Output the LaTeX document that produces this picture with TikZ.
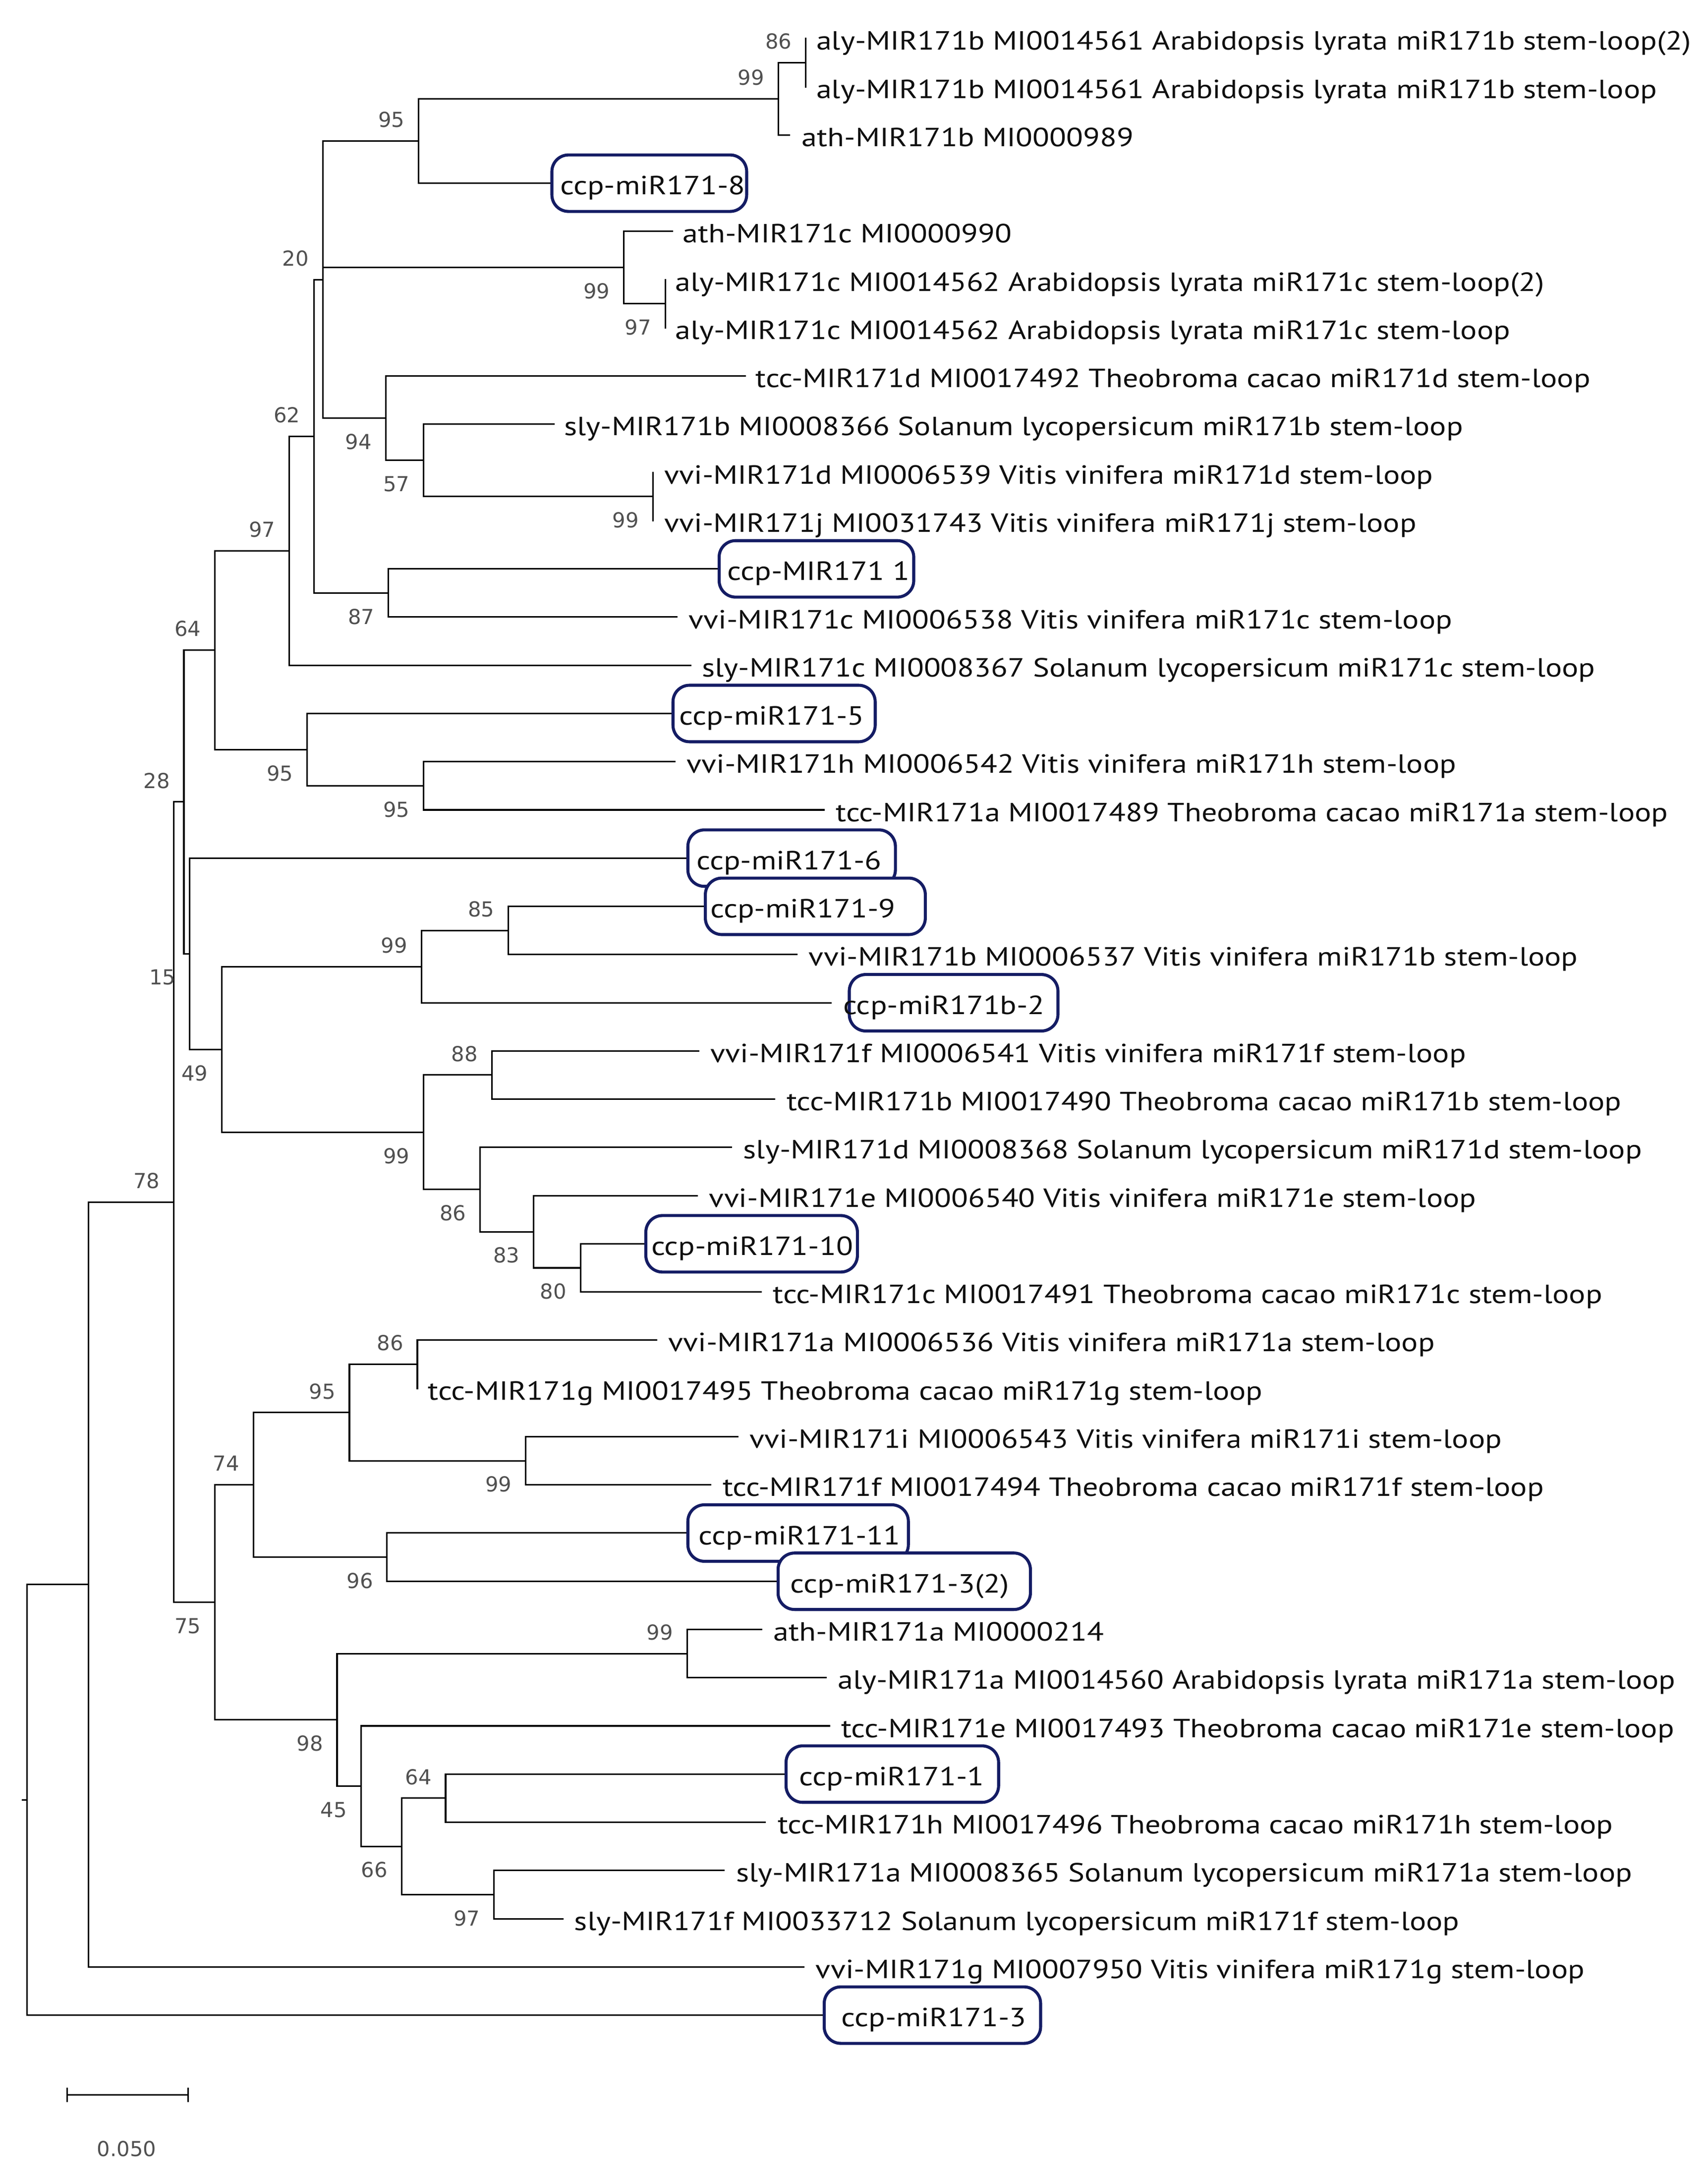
\documentclass[tikz,border=0pt]{standalone}
\usepackage{fontspec}
\usepackage{graphicx}
\newfontfamily\leaffam{PT Sans}
\newfontfamily\bsfam{DejaVu Sans}
\usetikzlibrary{calc}
\definecolor{navy}{RGB}{20,28,100}
\definecolor{bsgray}{RGB}{80,80,80}
\definecolor{leafblack}{RGB}{15,15,15}
\newlength\refw
\AtBeginDocument{%
\settowidth\refw{\leaffam\fontsize{10pt}{12pt}\selectfont aly-MIR171b MI0014561 Arabidopsis lyrata miR171b stem-loop(2)}%
\pgfmathsetmacro\leafsx{635/(\refw*1.91)}%
\xdef\leafsx{\leafsx}}
\newcommand\leaffont{\leaffam\fontsize{19.1pt}{19.1pt}\selectfont}
\newcommand\lt[1]{\scalebox{\leafsx}[1]{#1}}
\newcommand\bsfont{\bsfam\fontsize{15pt}{15pt}\selectfont}
\tikzset{
 br/.style={line width=1.1pt, draw=black, line cap=rect},
 leaf/.style={anchor=west, inner sep=0pt, font=\leaffont, text=leafblack, text height=16.6pt, text depth=0pt},
 bsu/.style={anchor=base east, inner sep=0pt, font=\bsfont, text=bsgray},
 bsl/.style={anchor=north east, inner sep=0pt, font=\bsfont, text=bsgray, text height=10.9pt, text depth=0pt},
 ccpbox/.style={draw=navy, line width=2.2pt, rounded corners=12pt, fill=white, minimum height=41pt, inner sep=0pt, anchor=west},
}
\begin{document}
\begin{tikzpicture}[x=1pt,y=-1pt]
\useasboundingbox (0,0) rectangle (1240,1574);
% internal nodes
\coordinate (A) at (585,45.5);
\coordinate (B) at (565,71.75);
\coordinate (C) at (304,102.4);
\coordinate (E) at (483,220.5);
\coordinate (D) at (453,194.25);
\coordinate (V) at (474,360.5);
\coordinate (N57) at (307.6,334.25);
\coordinate (G) at (280,303.6);
\coordinate (N20) at (234.3,203);
\coordinate (N87) at (282,430.5);
\coordinate (N62) at (228,316.75);
\coordinate (N97) at (210,399.9);
\coordinate (N95b) at (307.6,570.5);
\coordinate (N95a) at (223,544.25);
\coordinate (N64) at (156,472);
\coordinate (N85) at (369,675.5);
\coordinate (N99a) at (306,701.75);
\coordinate (N88) at (357,780.5);
\coordinate (N80) at (421.5,920.5);
\coordinate (N83) at (387.5,894.25);
\coordinate (N86) at (348.5,863.6);
\coordinate (N99b) at (307.6,822);
\coordinate (N49) at (161,761.9);
\coordinate (N15) at (137.7,692.4);
\coordinate (N28) at (133.5,582.2);
\coordinate (N86c) at (303,990.5);
\coordinate (N99c) at (381.7,1060.5);
\coordinate (N95c) at (253.7,1025.5);
\coordinate (N96) at (281,1130.5);
\coordinate (N74) at (184,1078);
\coordinate (N99d) at (498.8,1200.5);
\coordinate (N64b) at (323.5,1305.5);
\coordinate (N97b) at (358.7,1375.5);
\coordinate (N66) at (291.5,1340.5);
\coordinate (N45) at (262,1296.75);
\coordinate (N98) at (244.7,1248.6);
\coordinate (N75) at (156,1163.3);
\coordinate (N78) at (126.2,872.75);
\coordinate (NR1) at (64.4,1150.4);
\coordinate (Root) at (19.5,1306.7);
\coordinate (RootStub) at (16.5,1306.7);
% leaf ends
\coordinate (L1) at (585,28);
\coordinate (L2) at (585,63);
\coordinate (L3) at (573,98);
\coordinate (L4) at (399.6,133);
\coordinate (L5) at (488,168);
\coordinate (L6) at (483,203);
\coordinate (L7) at (483,238);
\coordinate (L8) at (541,273);
\coordinate (L9) at (402,308);
\coordinate (L10) at (474,343);
\coordinate (L11) at (474,378);
\coordinate (L12) at (521,413);
\coordinate (L13) at (491.4,448);
\coordinate (L14) at (501.3,483);
\coordinate (L15) at (487.5,518);
\coordinate (L16) at (490,553);
\coordinate (L17) at (598.3,588);
\coordinate (L18) at (498.3,623);
\coordinate (L19) at (511,658);
\coordinate (L20) at (578.6,693);
\coordinate (L21) at (603.2,728);
\coordinate (L22) at (507.2,763);
\coordinate (L23) at (562.4,798);
\coordinate (L24) at (530.8,833);
\coordinate (L25) at (506.2,868);
\coordinate (L26) at (467.8,903);
\coordinate (L27) at (552.5,938);
\coordinate (L28) at (476.7,973);
\coordinate (L29) at (303,1008);
\coordinate (L30) at (535.8,1043);
\coordinate (L31) at (516,1078);
\coordinate (L32) at (498.3,1113);
\coordinate (L33) at (563.8,1148);
\coordinate (L34) at (553,1183);
\coordinate (L35) at (599.8,1218);
\coordinate (L36) at (602.3,1253);
\coordinate (L37) at (569.6,1288);
\coordinate (L38) at (555.5,1323);
\coordinate (L39) at (525.4,1358);
\coordinate (L40) at (408.6,1393);
\coordinate (L41) at (583.5,1428);
\coordinate (L42) at (597.3,1463);
% branches
\foreach \p/\c in {A/L1,A/L2,B/A,B/L3,C/B,C/L4,E/L6,E/L7,D/L5,D/E,V/L10,V/L11,
  N57/L9,N57/V,G/L8,G/N57,N20/C,N20/D,N20/G,N87/L12,N87/L13,N62/N20,N62/N87,
  N97/N62,N97/L14,N95b/L16,N95b/L17,N95a/L15,N95a/N95b,N64/N97,N64/N95a,
  N85/L19,N85/L20,N99a/N85,N99a/L21,N88/L22,N88/L23,N80/L26,N80/L27,N83/L25,N83/N80,
  N86/L24,N86/N83,N99b/N88,N99b/N86,N49/N99a,N49/N99b,N15/L18,N15/N49,N28/N64,N28/N15,
  N86c/L28,N86c/L29,N99c/L30,N99c/L31,N95c/N86c,N95c/N99c,N96/L32,N96/L33,N74/N95c,N74/N96,
  N99d/L34,N99d/L35,N64b/L37,N64b/L38,N97b/L39,N97b/L40,N66/N64b,N66/N97b,N45/L36,N45/N66,
  N98/N99d,N98/N45,N75/N74,N75/N98,N78/N28,N78/N75,NR1/N78,NR1/L41,Root/NR1,Root/L42}
  \draw[br] (\p) |- (\c);
\draw[br] (Root) -- (RootStub);
% boxes
\node[ccpbox, minimum width=141.4pt] (b4) at (L4) {};
\node[ccpbox, minimum width=141.3pt] (b12) at (L12) {};
\node[ccpbox, minimum width=146.8pt] (b15) at (L15) {};
\node[ccpbox, minimum width=150.7pt] (b18) at (L18) {};
\node[ccpbox, minimum width=159.7pt] (b19) at (L19) {};
\node[ccpbox, minimum width=151.5pt] (b21) at (615.5,728) {};
\node[ccpbox, minimum width=153.6pt] (b26) at (L26) {};
\node[ccpbox, minimum width=160.1pt] (b32) at (L32) {};
\node[ccpbox, minimum width=183.2pt] (b33) at (L33) {};
\node[ccpbox, minimum width=154.3pt] (b37) at (L37) {};
\node[ccpbox, minimum width=157.1pt] (b42) at (L42) {};
% leaf labels
\node[leaf] (t1) at (592.5,28) {\lt{aly-MIR171b MI0014561 Arabidopsis lyrata miR171b stem-loop(2)}};
\node[leaf] (t2) at (592.5,63) {\lt{aly-MIR171b MI0014561 Arabidopsis lyrata miR171b stem-loop}};
\node[leaf] (t3) at (582,98) {\lt{ath-MIR171b MI0000989}};
\node[leaf] (t4) at (406.6,133) {\lt{ccp-miR171-8}};
\node[leaf] (t5) at (495.5,168) {\lt{ath-MIR171c MI0000990}};
\node[leaf] (t6) at (490,203) {\lt{aly-MIR171c MI0014562 Arabidopsis lyrata miR171c stem-loop(2)}};
\node[leaf] (t7) at (490,238) {\lt{aly-MIR171c MI0014562 Arabidopsis lyrata miR171c stem-loop}};
\node[leaf] (t8) at (548.5,273) {\lt{tcc-MIR171d MI0017492 Theobroma cacao miR171d stem-loop}};
\node[leaf] (t9) at (409.5,308) {\lt{sly-MIR171b MI0008366 Solanum lycopersicum miR171b stem-loop}};
\node[leaf] (t10) at (482,343) {\lt{vvi-MIR171d MI0006539 Vitis vinifera miR171d stem-loop}};
\node[leaf] (t11) at (482,378) {\lt{vvi-MIR171j MI0031743 Vitis vinifera miR171j stem-loop}};
\node[leaf] (t12) at (528,413) {\lt{ccp-MIR171 1}};
\node[leaf] (t13) at (499.8,448) {\lt{vvi-MIR171c MI0006538 Vitis vinifera miR171c stem-loop}};
\node[leaf] (t14) at (509.5,483) {\lt{sly-MIR171c MI0008367 Solanum lycopersicum miR171c stem-loop}};
\node[leaf] (t15) at (493,518) {\lt{ccp-miR171-5}};
\node[leaf] (t16) at (498.3,553) {\lt{vvi-MIR171h MI0006542 Vitis vinifera miR171h stem-loop}};
\node[leaf] (t17) at (606.7,588) {\lt{tcc-MIR171a MI0017489 Theobroma cacao miR171a stem-loop}};
\node[leaf] (t18) at (505.6,623) {\lt{ccp-miR171-6}};
\node[leaf] (t19) at (515.6,658) {\lt{ccp-miR171-9}};
\node[leaf] (t20) at (587,693) {\lt{vvi-MIR171b MI0006537 Vitis vinifera miR171b stem-loop}};
\node[leaf] (t21) at (612,728) {\lt{ccp-miR171b-2}};
\node[leaf] (t22) at (515.6,763) {\lt{vvi-MIR171f MI0006541 Vitis vinifera miR171f stem-loop}};
\node[leaf] (t23) at (571,798) {\lt{tcc-MIR171b MI0017490 Theobroma cacao miR171b stem-loop}};
\node[leaf] (t24) at (539.5,833) {\lt{sly-MIR171d MI0008368 Solanum lycopersicum miR171d stem-loop}};
\node[leaf] (t25) at (514.6,868) {\lt{vvi-MIR171e MI0006540 Vitis vinifera miR171e stem-loop}};
\node[leaf] (t26) at (472.7,903) {\lt{ccp-miR171-10}};
\node[leaf] (t27) at (561,938) {\lt{tcc-MIR171c MI0017491 Theobroma cacao miR171c stem-loop}};
\node[leaf] (t28) at (485,973) {\lt{vvi-MIR171a MI0006536 Vitis vinifera miR171a stem-loop}};
\node[leaf] (t29) at (310.6,1008) {\lt{tcc-MIR171g MI0017495 Theobroma cacao miR171g stem-loop}};
\node[leaf] (t30) at (544,1043) {\lt{vvi-MIR171i MI0006543 Vitis vinifera miR171i stem-loop}};
\node[leaf] (t31) at (524.5,1078) {\lt{tcc-MIR171f MI0017494 Theobroma cacao miR171f stem-loop}};
\node[leaf] (t32) at (507,1113) {\lt{ccp-miR171-11}};
\node[leaf] (t33) at (573.6,1148) {\lt{ccp-miR171-3(2)}};
\node[leaf] (t34) at (561.4,1183) {\lt{ath-MIR171a MI0000214}};
\node[leaf] (t35) at (608,1218) {\lt{aly-MIR171a MI0014560 Arabidopsis lyrata miR171a stem-loop}};
\node[leaf] (t36) at (610.6,1253) {\lt{tcc-MIR171e MI0017493 Theobroma cacao miR171e stem-loop}};
\node[leaf] (t37) at (580,1288) {\lt{ccp-miR171-1}};
\node[leaf] (t38) at (564.5,1323) {\lt{tcc-MIR171h MI0017496 Theobroma cacao miR171h stem-loop}};
\node[leaf] (t39) at (534.3,1358) {\lt{sly-MIR171a MI0008365 Solanum lycopersicum miR171a stem-loop}};
\node[leaf] (t40) at (416.8,1393) {\lt{sly-MIR171f MI0033712 Solanum lycopersicum miR171f stem-loop}};
\node[leaf] (t41) at (592,1428) {\lt{vvi-MIR171g MI0007950 Vitis vinifera miR171g stem-loop}};
\node[leaf] (t42) at (610.7,1463) {\lt{ccp-miR171-3}};
% bootstrap values (upper / lower)
\foreach \n/\v in {A/86,B/99,C/95,N20/20,N62/62,N97/97,N64/64,N28/28,N85/85,N99a/99,N88/88,N78/78,N86c/86,N95c/95,N74/74,N99d/99,N64b/64}
  \node[bsu] (bs\n) at ([xshift=-10pt,yshift=10pt]\n) {\v};
\foreach \n/\v in {D/99,E/97,G/94,N57/57,V/99,N87/87,N95a/95,N95b/95,N15/15,N49/49,N99b/99,N86/86,N83/83,N80/80,N99c/99,N96/96,N75/75,N98/98,N45/45,N66/66,N97b/97}
  \node[bsl] (bs\n) at ([xshift=-10pt,yshift=-11.5pt]\n) {\v};
% scale bar
\coordinate (sb1) at (48.8,1521);
\coordinate (sb2) at (136.6,1521);
\draw[br, line cap=butt] (sb1) -- (sb2);
\draw[br, line cap=butt] ([yshift=5.2pt]sb1) -- ([yshift=-5.2pt]sb1);
\draw[br, line cap=butt] ([yshift=5.2pt]sb2) -- ([yshift=-5.2pt]sb2);
\node[inner sep=0pt, font=\bsfont, text=bsgray] (sbl) at (92,1560) {0.050};
\end{tikzpicture}
\end{document}
